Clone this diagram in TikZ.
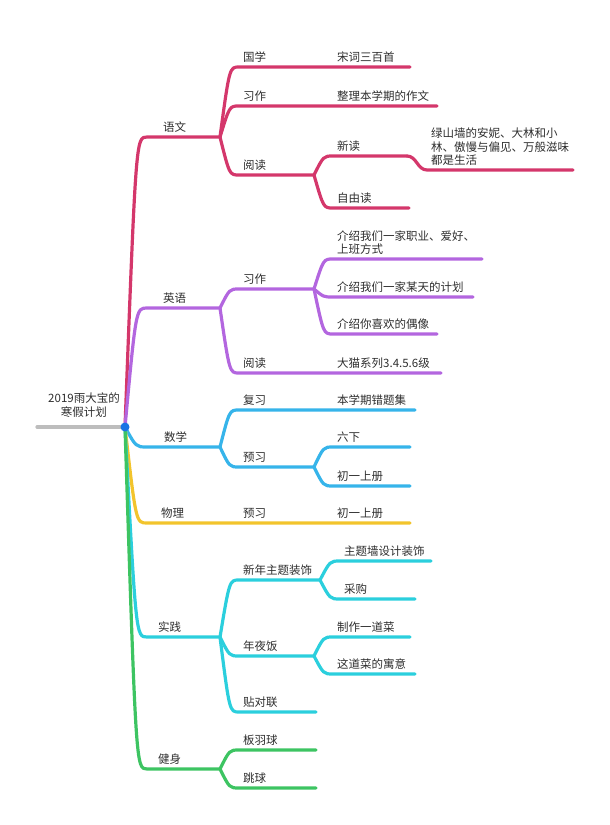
\documentclass[tikz,border=0pt]{standalone}
\usepackage{fontspec}
\setmainfont{Noto Sans CJK SC}
\usepackage{tikz}
\usetikzlibrary{calc}
\definecolor{txt}{HTML}{2E2E2E}
\definecolor{rootc}{HTML}{BDBDBD}
\definecolor{dotc}{HTML}{1B74E4}
\definecolor{ywc}{HTML}{D4376B}
\definecolor{yyc}{HTML}{B366DF}
\definecolor{sxc}{HTML}{36B4EA}
\definecolor{wlc}{HTML}{F2C42C}
\definecolor{sjc}{HTML}{2BCFDD}
\definecolor{jsc}{HTML}{3DC462}
\tikzstyle{topic} = [anchor=base west, inner sep=0pt, xshift=4pt, yshift=5.5pt, text=txt, align=left, font=\fontsize{11.5}{13.5}\selectfont]
\tikzstyle{branch} = [line width=3.2pt, line cap=round, line join=round]
\tikzstyle{curve} = [to path={let \p1=(\tikztostart), \p2=(\tikztotarget) in .. controls ({(\x1+\x2)/2},\y2) .. (\tikztotarget)}]

\begin{document}
\begin{tikzpicture}[x=1pt, y=-1pt]
    \useasboundingbox (0,0) rectangle (610,825);
    % root
    \coordinate (root) at (125,427);
    \coordinate (root-s) at (37,427);
    \node[topic, anchor=base, xshift=0pt, yshift=0pt, align=center] (plan) at (80,421.5) {2019雨大宝的\\寒假计划};
    \draw[branch, rootc] (root-s) -- (root);

    % 语文
    \coordinate (yw-s) at (147,137);   \coordinate (yw) at (220,137);
    \coordinate (gx) at (239,67);      \coordinate (sc) at (410,67);
    \coordinate (xz1) at (239,106);    \coordinate (zl) at (437,106);
    \coordinate (yd1) at (239,175);    \coordinate (yd1-e) at (314,175);
    \coordinate (xd) at (333,156);     \coordinate (xd-e) at (407,156);
    \coordinate (lsq) at (427,170);    \coordinate (lsq-e) at (573,170);
    \coordinate (zyd) at (333,208);    \coordinate (zyd-e) at (409,208);
    \draw[branch, ywc] (root) to[curve] (yw-s) -- (yw);
    \draw[branch, ywc] (yw) to[curve] (gx) -- (sc);
    \draw[branch, ywc] (yw) to[curve] (xz1) -- (zl);
    \draw[branch, ywc] (yw) to[curve] (yd1) -- (yd1-e);
    \draw[branch, ywc] (yd1-e) to[curve] (xd) -- (xd-e);
    \draw[branch, ywc] (xd-e) to[out=0, in=180] (lsq) -- (lsq-e);
    \draw[branch, ywc] (yd1-e) to[curve] (zyd) -- (zyd-e);
    \node[topic] (yw-t) at (159,137) {语文};
    \node[topic] (gx-t) at (gx) {国学};
    \node[topic] (sc-t) at (333,67) {宋词三百首};
    \node[topic] (xz1-t) at (xz1) {习作};
    \node[topic] (zl-t) at (333,106) {整理本学期的作文};
    \node[topic] (yd1-t) at (yd1) {阅读};
    \node[topic] (xd-t) at (xd) {新读};
    \node[topic] (lsq-t) at (lsq) {绿山墙的安妮、大林和小\\林、傲慢与偏见、万般滋味\\都是生活};
    \node[topic] (zyd-t) at (zyd) {自由读};

    % 英语
    \coordinate (yy-s) at (147,308);   \coordinate (yy) at (220,308);
    \coordinate (xz2) at (239,289);    \coordinate (xz2-e) at (314,289);
    \coordinate (js1) at (333,259);    \coordinate (js1-e) at (482,259);
    \coordinate (js2) at (333,297);    \coordinate (js2-e) at (473,297);
    \coordinate (js3) at (333,334);    \coordinate (js3-e) at (437,334);
    \coordinate (yd2) at (239,373);    \coordinate (dm) at (441,373);
    \draw[branch, yyc] (root) to[curve] (yy-s) -- (yy);
    \draw[branch, yyc] (yy) to[curve] (xz2) -- (xz2-e);
    \draw[branch, yyc] (xz2-e) to[curve] (js1) -- (js1-e);
    \draw[branch, yyc] (xz2-e) to[curve] (js2) -- (js2-e);
    \draw[branch, yyc] (xz2-e) to[curve] (js3) -- (js3-e);
    \draw[branch, yyc] (yy) to[curve] (yd2) -- (dm);
    \node[topic] (yy-t) at (159,308) {英语};
    \node[topic] (xz2-t) at (xz2) {习作};
    \node[topic] (js1-t) at (js1) {介绍我们一家职业、爱好、\\上班方式};
    \node[topic] (js2-t) at (js2) {介绍我们一家某天的计划};
    \node[topic] (js3-t) at (js3) {介绍你喜欢的偶像};
    \node[topic] (yd2-t) at (yd2) {阅读};
    \node[topic] (dm-t) at (333,373) {大猫系列3.4.5.6级};

    % 数学
    \coordinate (sx-s) at (147,447);   \coordinate (sx) at (220,447);
    \coordinate (fx) at (239,410);     \coordinate (ct) at (415,410);
    \coordinate (yx1) at (239,467);    \coordinate (yx1-e) at (314,467);
    \coordinate (lx) at (333,447);     \coordinate (lx-e) at (410,447);
    \coordinate (cy1) at (333,486);    \coordinate (cy1-e) at (410,486);
    \draw[branch, sxc] (root) to[curve] (sx-s) -- (sx);
    \draw[branch, sxc] (sx) to[curve] (fx) -- (ct);
    \draw[branch, sxc] (sx) to[curve] (yx1) -- (yx1-e);
    \draw[branch, sxc] (yx1-e) to[curve] (lx) -- (lx-e);
    \draw[branch, sxc] (yx1-e) to[curve] (cy1) -- (cy1-e);
    \node[topic] (sx-t) at (160,447) {数学};
    \node[topic] (fx-t) at (fx) {复习};
    \node[topic] (ct-t) at (333,410) {本学期错题集};
    \node[topic] (yx1-t) at (yx1) {预习};
    \node[topic] (lx-t) at (lx) {六下};
    \node[topic] (cy1-t) at (cy1) {初一上册};

    % 物理
    \coordinate (wl-s) at (147,523);   \coordinate (cy2) at (410,523);
    \draw[branch, wlc] (root) to[curve] (wl-s) -- (cy2);
    \node[topic] (wl-t) at (157,523) {物理};
    \node[topic] (yx2-t) at (239,523) {预习};
    \node[topic] (cy2-t) at (333,523) {初一上册};

    % 实践
    \coordinate (sj-s) at (147,637);   \coordinate (sj) at (220,637);
    \coordinate (xn) at (239,580);     \coordinate (xn-e) at (320,580);
    \coordinate (ztq) at (340,561);    \coordinate (ztq-e) at (431,561);
    \coordinate (cg) at (340,599);     \coordinate (cg-e) at (415,599);
    \coordinate (nyf) at (239,656);    \coordinate (nyf-e) at (314,656);
    \coordinate (zz) at (333,637);     \coordinate (zz-e) at (410,637);
    \coordinate (yyi) at (333,674);    \coordinate (yyi-e) at (415,674);
    \coordinate (tdl) at (239,712);    \coordinate (tdl-e) at (316,712);
    \draw[branch, sjc] (root) to[curve] (sj-s) -- (sj);
    \draw[branch, sjc] (sj) to[curve] (xn) -- (xn-e);
    \draw[branch, sjc] (xn-e) to[curve] (ztq) -- (ztq-e);
    \draw[branch, sjc] (xn-e) to[curve] (cg) -- (cg-e);
    \draw[branch, sjc] (sj) to[curve] (nyf) -- (nyf-e);
    \draw[branch, sjc] (nyf-e) to[curve] (zz) -- (zz-e);
    \draw[branch, sjc] (nyf-e) to[curve] (yyi) -- (yyi-e);
    \draw[branch, sjc] (sj) to[curve] (tdl) -- (tdl-e);
    \node[topic] (sj-t) at (154,637) {实践};
    \node[topic] (xn-t) at (xn) {新年主题装饰};
    \node[topic] (ztq-t) at (ztq) {主题墙设计装饰};
    \node[topic] (cg-t) at (cg) {采购};
    \node[topic] (nyf-t) at (nyf) {年夜饭};
    \node[topic] (zz-t) at (zz) {制作一道菜};
    \node[topic] (yyi-t) at (yyi) {这道菜的寓意};
    \node[topic] (tdl-t) at (tdl) {贴对联};

    % 健身
    \coordinate (jsh-s) at (147,769);  \coordinate (jsh) at (220,769);
    \coordinate (byq) at (239,750);    \coordinate (byq-e) at (316,750);
    \coordinate (tq) at (239,788);     \coordinate (tq-e) at (316,788);
    \draw[branch, jsc] (root) to[curve] (jsh-s) -- (jsh);
    \draw[branch, jsc] (jsh) to[curve] (byq) -- (byq-e);
    \draw[branch, jsc] (jsh) to[curve] (tq) -- (tq-e);
    \node[topic] (jsh-t) at (154,769) {健身};
    \node[topic] (byq-t) at (byq) {板羽球};
    \node[topic] (tq-t) at (tq) {跳球};

    \fill[dotc] (root) circle (4.5);
\end{tikzpicture}
\end{document}
